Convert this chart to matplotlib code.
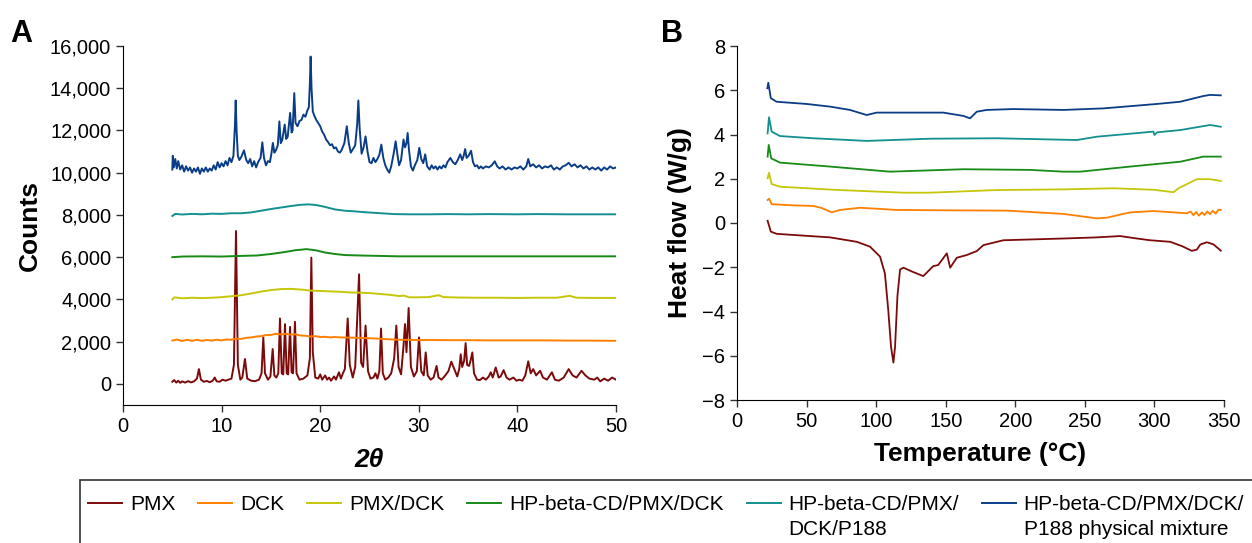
import matplotlib
matplotlib.use("Agg")
import matplotlib.pyplot as plt
from matplotlib.ticker import FuncFormatter
from matplotlib.patches import Rectangle

plt.rcParams['font.family'] = ['Liberation Sans', 'DejaVu Sans']

# series names and colours
labels = ["PMX", "DCK", "PMX/DCK", "HP-beta-CD/PMX/DCK",
          "HP-beta-CD/PMX/", "HP-beta-CD/PMX/DCK/"]
second_lines = ["", "", "", "", "DCK/P188", "P188 physical mixture"]
colors = ["#7d0a0a", "#ff8000", "#c6c60a", "#178a17", "#13908f", "#0b3d87"]

# ---- XRD (2theta, counts) ----
pmx_xrd = [(5.0, 100), (5.2, 180), (5.4, 60), (5.6, 150), (5.8, 50), (6.0, 120), (6.3, 60),
           (6.6, 130), (6.9, 70), (7.2, 120), (7.5, 250), (7.7, 700), (7.9, 200), (8.2, 100),
           (8.5, 140), (8.8, 80), (9.1, 150), (9.3, 300), (9.5, 120), (9.8, 100), (10.1, 200),
           (10.4, 150), (10.7, 200), (11.0, 250), (11.25, 900), (11.46, 7240), (11.65, 900),
           (11.9, 200), (12.1, 300), (12.37, 1180), (12.6, 250), (13.0, 150), (13.4, 130),
           (13.8, 200), (14.05, 500), (14.23, 2200), (14.4, 500), (14.7, 200), (14.95, 350),
           (15.18, 1650), (15.35, 400), (15.55, 300), (15.75, 500), (15.92, 3100), (16.1, 500),
           (16.25, 450), (16.43, 2830), (16.6, 500), (16.75, 450), (16.94, 2700), (17.1, 550),
           (17.25, 500), (17.44, 2940), (17.6, 500), (17.9, 200), (18.3, 250), (18.7, 400),
           (18.95, 1200), (19.1, 5980), (19.25, 1500), (19.5, 300), (19.8, 250), (20.0, 450),
           (20.2, 200), (20.5, 400), (20.7, 200), (20.9, 300), (21.1, 150), (21.4, 350),
           (21.6, 200), (21.9, 550), (22.1, 250), (22.3, 500), (22.5, 700), (22.79, 3100),
           (23.0, 900), (23.3, 300), (23.55, 800), (23.94, 5190), (24.15, 1000), (24.35, 800),
           (24.6, 2760), (24.85, 600), (25.1, 250), (25.4, 300), (25.6, 500), (25.8, 250),
           (26.0, 600), (26.17, 2620), (26.35, 500), (26.6, 200), (26.9, 300), (27.2, 500),
           (27.5, 1200), (27.72, 2760), (27.95, 800), (28.2, 450), (28.45, 1800), (28.6, 2830),
           (28.75, 1500), (28.97, 3590), (29.2, 800), (29.5, 350), (29.8, 600), (30.02, 2200),
           (30.25, 600), (30.5, 400), (30.7, 1490), (30.9, 400), (31.2, 200), (31.5, 300),
           (31.8, 850), (32.0, 300), (32.3, 200), (32.6, 350), (33.0, 600), (33.3, 1050),
           (33.6, 700), (33.9, 350), (34.1, 700), (34.25, 1400), (34.4, 800), (34.6, 1100),
           (34.75, 1930), (34.9, 900), (35.1, 850), (35.25, 1100), (35.43, 1490), (35.6, 500),
           (35.9, 200), (36.2, 180), (36.5, 300), (36.8, 200), (37.1, 350), (37.3, 550),
           (37.5, 300), (37.8, 780), (38.1, 300), (38.3, 350), (38.6, 650), (38.9, 300),
           (39.2, 200), (39.6, 300), (39.9, 150), (40.2, 200), (40.5, 150), (40.8, 400),
           (41.1, 1070), (41.35, 500), (41.6, 700), (41.9, 400), (42.3, 620), (42.6, 300),
           (43.0, 200), (43.5, 550), (43.8, 200), (44.2, 150), (44.7, 300), (45.2, 700),
           (45.6, 400), (46.0, 300), (46.5, 620), (46.9, 400), (47.3, 250), (47.8, 200),
           (48.1, 300), (48.4, 120), (48.8, 250), (49.2, 150), (49.6, 300), (50.0, 200)]

dck_xrd = [(5.0, 2050), (5.5, 2100), (6.0, 2030), (6.5, 2090), (7.0, 2040), (7.5, 2090),
           (8.0, 2040), (8.5, 2080), (9.0, 2050), (9.5, 2090), (10.0, 2060), (10.5, 2100),
           (11.0, 2090), (11.5, 2140), (12.0, 2130), (12.5, 2180), (13.0, 2200), (13.5, 2240),
           (14.0, 2260), (14.5, 2310), (15.0, 2320), (15.5, 2370), (16.0, 2340), (16.5, 2370),
           (17.0, 2330), (17.5, 2350), (18.0, 2290), (18.5, 2280), (19.0, 2240), (19.5, 2260),
           (20.0, 2220), (20.5, 2230), (21.0, 2200), (21.5, 2220), (22.0, 2200), (23.0, 2190),
           (24.0, 2180), (25.0, 2160), (26.0, 2140), (27.0, 2110), (28.0, 2090), (29.0, 2090),
           (30.0, 2070), (31.0, 2080), (33.0, 2070), (35.0, 2070), (37.0, 2060), (39.0, 2060),
           (41.0, 2060), (43.0, 2060), (45.0, 2050), (47.0, 2050), (50.0, 2040)]

pmx_dck_xrd = [(5.0, 4000), (5.2, 4100), (6.0, 4050), (7.0, 4080), (8.0, 4060), (9.0, 4080),
               (9.8, 4100), (11.0, 4150), (12.0, 4200), (13.0, 4280), (14.0, 4370), (15.0, 4440),
               (16.0, 4490), (17.0, 4500), (18.0, 4470), (19.0, 4420), (20.0, 4400), (21.0, 4380),
               (22.0, 4360), (23.0, 4330), (24.0, 4320), (25.0, 4300), (26.0, 4260), (27.0, 4220),
               (28.0, 4160), (28.5, 4180), (29.0, 4100), (30.0, 4100), (31.0, 4110), (32.0, 4200),
               (32.5, 4110), (34.0, 4090), (36.0, 4080), (38.0, 4080), (40.0, 4070), (42.0, 4080),
               (44.0, 4080), (45.3, 4170), (46.0, 4080), (48.0, 4070), (50.0, 4070)]

cd_xrd = [(5.0, 6000), (6.0, 6030), (8.0, 6040), (10.0, 6030), (12.0, 6060), (13.6, 6080),
          (15.0, 6150), (16.5, 6250), (17.5, 6330), (18.6, 6380), (19.5, 6330), (20.5, 6220),
          (21.5, 6150), (22.5, 6100), (24.0, 6080), (26.0, 6060), (28.0, 6040), (30.0, 6040),
          (33.0, 6040), (36.0, 6040), (40.0, 6040), (45.0, 6040), (50.0, 6040)]

p188_xrd = [(5.0, 7950), (5.3, 8050), (6.0, 8020), (7.0, 8050), (8.0, 8030), (9.0, 8060),
            (10.0, 8050), (11.0, 8080), (12.0, 8080), (13.0, 8120), (14.0, 8200), (15.0, 8280),
            (16.0, 8350), (17.0, 8420), (18.0, 8480), (18.8, 8500), (19.6, 8470), (20.5, 8380),
            (21.5, 8260), (22.5, 8200), (23.5, 8170), (24.5, 8130), (25.5, 8100), (26.5, 8070),
            (27.5, 8040), (29.0, 8030), (31.0, 8030), (33.0, 8040), (35.0, 8030), (37.0, 8040),
            (40.0, 8030), (42.0, 8040), (45.0, 8030), (48.0, 8030), (50.0, 8030)]

mix_xrd = [(5.0, 10150), (5.05, 10800), (5.15, 10250), (5.3, 10650), (5.45, 10200), (5.6, 10550),
           (5.8, 10150), (6.0, 10350), (6.2, 10050), (6.4, 10300), (6.6, 10100), (6.8, 10250),
           (7.0, 10000), (7.2, 10200), (7.4, 10050), (7.6, 10250), (7.8, 9950), (8.0, 10200),
           (8.2, 10050), (8.4, 10250), (8.6, 10050), (8.8, 10200), (9.0, 10100), (9.2, 10350),
           (9.4, 10150), (9.6, 10500), (9.8, 10250), (10.0, 10450), (10.2, 10300), (10.4, 10550),
           (10.6, 10350), (10.8, 10700), (11.0, 10500), (11.2, 10800), (11.35, 12200),
           (11.43, 13420), (11.52, 12000), (11.65, 10800), (11.8, 10600), (12.0, 10750),
           (12.27, 11060), (12.5, 10600), (12.7, 10450), (12.9, 10650), (13.1, 10300),
           (13.3, 10550), (13.5, 10250), (13.7, 10500), (13.95, 10700), (14.13, 11440),
           (14.3, 10700), (14.5, 10350), (14.7, 10550), (14.9, 10500), (15.05, 10900),
           (15.2, 11410), (15.35, 10950), (15.5, 11050), (15.7, 11300), (15.86, 12430),
           (16.0, 11400), (16.15, 11550), (16.4, 12280), (16.55, 11600), (16.7, 11700),
           (16.95, 12830), (17.1, 11900), (17.2, 12000), (17.37, 13770), (17.5, 12350),
           (17.7, 12200), (17.9, 12450), (18.1, 12500), (18.3, 12750), (18.5, 12650),
           (18.7, 12950), (18.85, 13100), (18.95, 14200), (19.03, 15500), (19.12, 14000),
           (19.25, 12900), (19.4, 12700), (19.6, 12500), (19.8, 12350), (20.0, 12200),
           (20.2, 11950), (20.4, 11800), (20.6, 11570), (20.8, 11450), (21.0, 11300),
           (21.2, 11350), (21.4, 11150), (21.6, 11200), (21.8, 11000), (22.0, 10950),
           (22.2, 11100), (22.45, 11400), (22.7, 12200), (22.9, 11400), (23.1, 10950),
           (23.3, 11100), (23.55, 11300), (23.75, 12300), (23.87, 13420), (24.0, 12100),
           (24.2, 10900), (24.4, 11200), (24.6, 11720), (24.8, 11000), (25.0, 10500),
           (25.2, 10450), (25.4, 10700), (25.6, 10500), (25.8, 10650), (26.0, 10850),
           (26.2, 11330), (26.4, 10700), (26.6, 10350), (26.8, 10150), (27.0, 10000),
           (27.2, 10300), (27.45, 10900), (27.65, 11490), (27.85, 10800), (28.0, 10350),
           (28.2, 10600), (28.45, 11570), (28.6, 11200), (28.75, 11400), (28.87, 11880),
           (29.0, 11100), (29.2, 10300), (29.4, 10100), (29.6, 10350), (29.85, 10600),
           (30.05, 11180), (30.25, 10650), (30.45, 10450), (30.65, 10870), (30.85, 10300),
           (31.1, 10150), (31.3, 10350), (31.5, 10200), (31.7, 10300), (31.9, 10150),
           (32.1, 10300), (32.3, 10200), (32.5, 10350), (32.7, 10250), (32.9, 10500),
           (33.2, 10700), (33.45, 10500), (33.7, 10400), (33.95, 10600), (34.2, 10870),
           (34.4, 10600), (34.55, 10800), (34.7, 11120), (34.85, 10700), (35.05, 10800),
           (35.3, 11040), (35.5, 10500), (35.7, 10300), (35.9, 10350), (36.1, 10200),
           (36.3, 10300), (36.5, 10200), (36.8, 10300), (37.1, 10250), (37.4, 10350),
           (37.7, 10540), (37.95, 10300), (38.2, 10200), (38.5, 10300), (38.8, 10150),
           (39.1, 10250), (39.4, 10150), (39.7, 10250), (40.0, 10200), (40.3, 10300),
           (40.6, 10150), (40.9, 10300), (41.1, 10650), (41.3, 10300), (41.6, 10400),
           (41.9, 10250), (42.2, 10350), (42.5, 10200), (42.8, 10300), (43.1, 10250),
           (43.4, 10350), (43.7, 10150), (44.0, 10250), (44.3, 10150), (44.6, 10300),
           (44.9, 10350), (45.2, 10470), (45.5, 10300), (45.8, 10400), (46.1, 10250),
           (46.4, 10350), (46.7, 10200), (47.0, 10300), (47.3, 10150), (47.6, 10250),
           (47.9, 10150), (48.2, 10250), (48.5, 10100), (48.8, 10250), (49.1, 10150),
           (49.4, 10300), (49.7, 10200), (50.0, 10250)]

# ---- DSC (temperature degC, heat flow W/g) ----
pmx_dsc = [(22, 0.10), (24.3, -0.39), (28.5, -0.49), (50, -0.58), (66.9, -0.65), (86.1, -0.85),
           (95.6, -1.07), (102.8, -1.52), (106.3, -2.28), (108.7, -3.93), (110.7, -5.59),
           (112.4, -6.31), (113.6, -5.59), (115.3, -3.30), (117.2, -2.10), (119.6, -2.02),
           (126, -2.2), (133.9, -2.40), (141, -1.95), (144.6, -1.90), (150.8, -1.37),
           (153.2, -2.02), (158, -1.57), (165, -1.45), (172.3, -1.27), (177.1, -1.0),
           (191.4, -0.78), (213, -0.74), (235, -0.70), (258.6, -0.65), (275.3, -0.59),
           (287.3, -0.70), (296.9, -0.78), (311.3, -0.85), (320, -1.05), (326.9, -1.26),
           (330.5, -1.20), (333, -0.97), (337.7, -0.87), (342.5, -0.97), (347.7, -1.25)]

dck_dsc = [(22, 1.04), (23, 1.10), (24.9, 0.85), (40, 0.80), (54.8, 0.77), (60.8, 0.68),
           (68.1, 0.48), (74, 0.59), (88.4, 0.69), (114.7, 0.59), (160, 0.57), (193.8, 0.56),
           (234.6, 0.41), (258.6, 0.21), (265.8, 0.24), (282.5, 0.48), (299.3, 0.54),
           (323.3, 0.44), (326, 0.52), (328, 0.35), (330, 0.50), (332, 0.33), (334, 0.48),
           (336, 0.36), (338, 0.52), (340, 0.40), (342, 0.55), (344, 0.42), (346, 0.60),
           (347.7, 0.59)]

pmx_dck_dsc = [(22, 2.02), (23, 2.27), (24.9, 1.76), (31, 1.64), (70, 1.50), (119.4, 1.37),
               (138.7, 1.37), (186.7, 1.49), (234.6, 1.52), (270.5, 1.57), (300, 1.50),
               (313.7, 1.39), (317.3, 1.57), (330.5, 1.98), (340, 1.98), (347.7, 1.90)]

cd_dsc = [(22, 3.00), (22.8, 3.53), (24.6, 2.92), (30.9, 2.73), (66.9, 2.55), (110, 2.32),
          (162.7, 2.43), (210.6, 2.40), (234.6, 2.32), (246.6, 2.32), (282.5, 2.55),
          (318.5, 2.77), (335.2, 3.00), (347.7, 3.00)]

p188_dsc = [(22, 4.05), (23, 4.78), (24.9, 4.13), (30.9, 3.93), (54.8, 3.83), (93.2, 3.71),
            (138.7, 3.81), (186.7, 3.83), (244.2, 3.75), (258.6, 3.90), (299.3, 4.13),
            (300, 3.98), (302, 4.10), (318.5, 4.20), (340, 4.43), (347.7, 4.35)]

mix_dsc = [(21.8, 6.09), (22.5, 6.34), (24.3, 5.64), (28.5, 5.48), (50.1, 5.38), (66.9, 5.26),
           (81.2, 5.11), (93.2, 4.88), (100.4, 4.99), (148.3, 4.99), (162.7, 4.84),
           (167.5, 4.73), (172.3, 5.03), (179.5, 5.11), (198.6, 5.15), (234.6, 5.11),
           (263.3, 5.18), (301.7, 5.38), (318.5, 5.48), (335.2, 5.74), (340, 5.79),
           (347.7, 5.77)]

xrd_series = [pmx_xrd, dck_xrd, pmx_dck_xrd, cd_xrd, p188_xrd, mix_xrd]
dsc_series = [pmx_dsc, dck_dsc, pmx_dck_dsc, cd_dsc, p188_dsc, mix_dsc]

fig = plt.figure(figsize=(12.52, 5.43), dpi=100)
axA = fig.add_axes([123/1252, 1-405/543, 493/1252, 359/543])
axB = fig.add_axes([737/1252, 1-400/543, 487/1252, 354/543])

handles = []
for data, c in zip(xrd_series, colors):
    xs = [p[0] for p in data]
    ys = [p[1] for p in data]
    h, = axA.plot(xs, ys, color=c, lw=1.4)
    handles.append(h)

for data, c in zip(dsc_series, colors):
    xs = [p[0] for p in data]
    ys = [p[1] for p in data]
    axB.plot(xs, ys, color=c, lw=1.3)

for ax in (axA, axB):
    ax.spines['top'].set_visible(False)
    ax.spines['right'].set_visible(False)
    ax.tick_params(direction='out', length=5, width=1, labelsize=14.5, color='#333333')

axA.set_xlim(0, 50)
axA.set_ylim(-1000, 16000)
axA.set_xticks(range(0, 51, 10))
axA.set_yticks(range(0, 16001, 2000))
axA.yaxis.set_major_formatter(FuncFormatter(lambda v, p: "{:,.0f}".format(v)))
axA.set_ylabel("Counts", fontsize=19, fontweight='bold', labelpad=6)
axA.set_xlabel("2θ", fontsize=19, fontweight='bold', fontstyle='italic', labelpad=9)

axB.set_xlim(0, 350)
axB.set_ylim(-8, 8)
axB.set_xticks(range(0, 351, 50))
axB.set_yticks(range(-8, 9, 2))
axB.set_ylabel("Heat flow (W/g)", fontsize=19, fontweight='bold', labelpad=7)
axB.set_xlabel("Temperature (°C)", fontsize=19, fontweight='bold', labelpad=8)

fig.text(10/1252, 1-42/543, "A", fontsize=22, fontweight='bold')
fig.text(661/1252, 1-42/543, "B", fontsize=22, fontweight='bold')

# legend row along the bottom
leg = fig.legend(handles, labels, loc='upper left', bbox_to_anchor=(88/1252, 1-495/543),
                 ncol=6, frameon=False, fontsize=15, handlelength=1.63,
                 handletextpad=0.38, columnspacing=1.1, borderpad=0, borderaxespad=0)
fig.patches.append(Rectangle((80/1252, -0.2), 1.0, 0.2 + 1-480/543, transform=fig.transFigure,
                             fill=False, edgecolor='#333333', lw=1.2))

fig.canvas.draw()
inv = fig.transFigure.inverted()
for t, extra in zip(leg.get_texts(), second_lines):
    if extra:
        bb = t.get_window_extent()
        x0, y0 = inv.transform((bb.x0, bb.y0))
        fig.text(x0, y0 - 25/543, extra, fontsize=15, va='bottom', ha='left')

fig.savefig("out.png", dpi=100)
